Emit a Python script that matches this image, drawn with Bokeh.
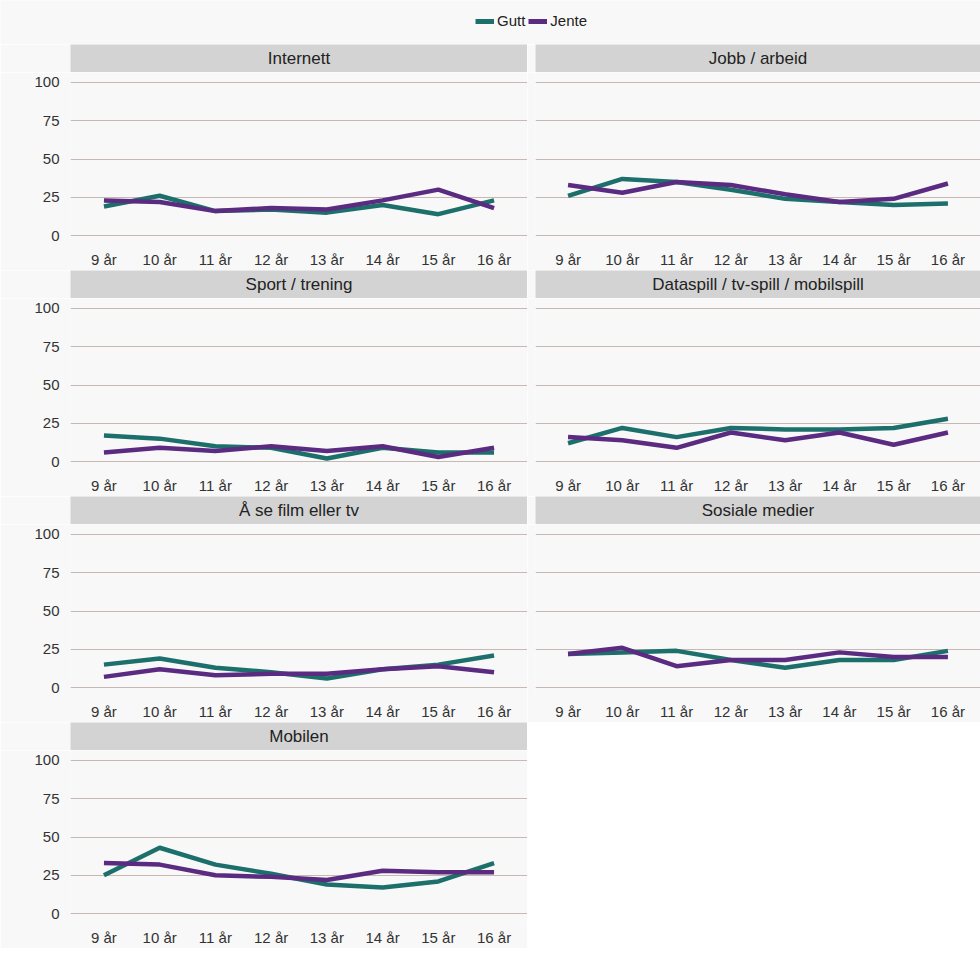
from bokeh.plotting import figure
from bokeh.layouts import column, row
from bokeh.models import (FactorRange, Range1d, Label, Legend, LegendItem)
from bokeh.embed import file_html
from bokeh.resources import INLINE

# ---------------- data ----------------
ages = ["9 år", "10 år", "11 år", "12 år", "13 år", "14 år", "15 år", "16 år"]
y_ticks = [0, 25, 50, 75, 100]

internett_gutt = [19, 26, 16, 17, 15, 20, 14, 23]
internett_jente = [23, 22, 16, 18, 17, 23, 30, 18]
jobb_gutt = [26, 37, 35, 30, 24, 22, 20, 21]
jobb_jente = [33, 28, 35, 33, 27, 22, 24, 34]
sport_gutt = [17, 15, 10, 9, 2, 9, 6, 6]
sport_jente = [6, 9, 7, 10, 7, 10, 3, 9]
dataspill_gutt = [12, 22, 16, 22, 21, 21, 22, 28]
dataspill_jente = [16, 14, 9, 19, 14, 19, 11, 19]
film_gutt = [15, 19, 13, 10, 6, 12, 15, 21]
film_jente = [7, 12, 8, 9, 9, 12, 14, 10]
sosiale_gutt = [22, 23, 24, 18, 13, 18, 18, 24]
sosiale_jente = [22, 26, 14, 18, 18, 23, 20, 20]
mobil_gutt = [25, 43, 32, 26, 19, 17, 21, 33]
mobil_jente = [33, 32, 25, 24, 22, 28, 27, 27]

panel_titles = ["Internett", "Jobb / arbeid", "Sport / trening",
                "Dataspill / tv-spill / mobilspill", "Å se film eller tv",
                "Sosiale medier", "Mobilen"]
series_labels = ["Gutt", "Jente"]

# ---------------- style ----------------
BG = "#f8f8f8"
TEAL = "#1c6f6a"
PURPLE = "#5a2b80"
STRIP = "#d3d3d3"
GRID = "#c7b8b4"
FONT = "Liberation Sans"
LEFT_W, LEFT_B = 527, 70
RIGHT_W, RIGHT_B = 453, 8


def make_strip(title, width, left):
    s = figure(width=width, height=28, x_range=Range1d(0, 1), y_range=Range1d(0, 1),
               toolbar_location=None, output_backend="svg",
               x_axis_location=None, y_axis_location=None,
               min_border_left=left, min_border_right=0,
               min_border_top=0, min_border_bottom=0)
    s.grid.visible = False
    s.background_fill_color = STRIP
    s.border_fill_color = BG
    s.outline_line_color = None
    s.add_layout(Label(x=0.5, y=0.5, text=title, text_align="center",
                       text_baseline="middle", text_font=FONT,
                       text_font_size="17px", text_color="#222222"))
    return s


def make_panel(gutt, jente, width, left, show_y):
    p = figure(width=width, height=198,
               x_range=FactorRange(factors=ages, range_padding=0.1,
                                   range_padding_units="absolute"),
               y_range=Range1d(-4.5, 106.5),
               toolbar_location=None, output_backend="svg",
               min_border_left=left, min_border_right=0,
               min_border_top=0, min_border_bottom=26)
    p.line(ages, gutt, color=TEAL, line_width=4.5)
    p.line(ages, jente, color=PURPLE, line_width=4.5)
    p.background_fill_color = BG
    p.border_fill_color = BG
    p.outline_line_color = None
    p.xgrid.visible = False
    p.yaxis.ticker = y_ticks
    p.ygrid.grid_line_color = GRID
    p.ygrid.grid_line_width = 1
    for ax in (p.xaxis, p.yaxis):
        ax.axis_line_color = None
        ax.major_tick_line_color = None
        ax.minor_tick_line_color = None
        ax.major_label_text_font = FONT
        ax.major_label_text_font_size = "15px"
        ax.major_label_text_color = "#333333"
    p.xaxis.major_label_standoff = 2
    p.yaxis.major_label_standoff = 5
    if not show_y:
        p.yaxis.visible = False
    return p


# legend figure: the legend renderers use real data but lie outside the view
lg = figure(width=LEFT_W + RIGHT_W, height=44, toolbar_location=None,
            output_backend="svg", x_axis_location=None, y_axis_location=None,
            x_range=FactorRange(factors=ages), y_range=Range1d(200, 300),
            min_border=0)
lg.grid.visible = False
lg.outline_line_color = None
lg.background_fill_color = BG
lg.border_fill_color = BG
r1 = lg.line(ages, internett_gutt, color=TEAL, line_width=5)
r2 = lg.line(ages, internett_jente, color=PURPLE, line_width=5)
legend = Legend(items=[LegendItem(label=series_labels[0], renderers=[r1]),
                       LegendItem(label=series_labels[1], renderers=[r2])],
                orientation="horizontal", location=(475, 15),
                glyph_width=19, glyph_height=14, label_standoff=3, spacing=3,
                padding=2, margin=0, label_text_font=FONT,
                label_text_font_size="15px", label_text_color="#222222",
                background_fill_alpha=0, border_line_color=None)
lg.add_layout(legend)

data_pairs = [(internett_gutt, internett_jente), (jobb_gutt, jobb_jente),
              (sport_gutt, sport_jente), (dataspill_gutt, dataspill_jente),
              (film_gutt, film_jente), (sosiale_gutt, sosiale_jente),
              (mobil_gutt, mobil_jente)]

cells = []
for i, (title, (g, j)) in enumerate(zip(panel_titles, data_pairs)):
    left = (i % 2 == 0)
    w = LEFT_W if left else RIGHT_W
    b = LEFT_B if left else RIGHT_B
    cells.append(column(make_strip(title, w, b), make_panel(g, j, w, b, left)))

rows = [row(cells[k:k + 2]) for k in range(0, len(cells), 2)]
layout = column([lg] + rows)

open("out.html", "w").write(file_html(layout, INLINE))
